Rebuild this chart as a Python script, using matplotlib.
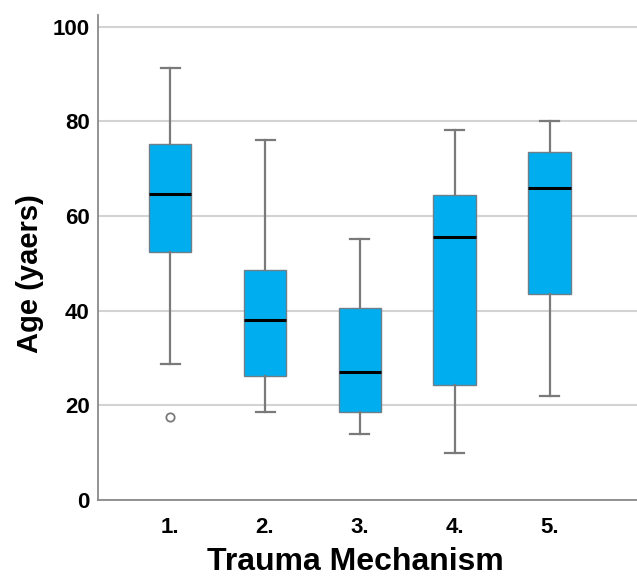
import matplotlib
matplotlib.use("Agg")
import matplotlib.pyplot as plt

plt.rcParams['font.family'] = ['Liberation Sans', 'DejaVu Sans']

categories = ["1.", "2.", "3.", "4.", "5."]
whisker_low = [28.8, 18.5, 14.0, 10.0, 22.0]
q1 = [52.5, 26.2, 18.6, 24.3, 43.5]
median = [64.6, 38.0, 27.0, 55.5, 65.9]
q3 = [75.3, 48.6, 40.6, 64.4, 73.6]
whisker_high = [91.2, 76.0, 55.1, 78.1, 80.2]
outliers = [[17.6], [], [], [], []]
yticks = [0, 20, 40, 60, 80, 100]

stats = []
for i, c in enumerate(categories):
    stats.append(dict(label=c, whislo=whisker_low[i], q1=q1[i], med=median[i],
                      q3=q3[i], whishi=whisker_high[i], fliers=outliers[i]))

fig = plt.figure(figsize=(6.37, 5.79), dpi=100)
ax = fig.add_axes([98/637, 1 - 500/579, 1 - 98/637, (500 - 15)/579])

positions = list(range(1, len(categories) + 1))
ax.bxp(stats, positions=positions, widths=0.45, patch_artist=True, zorder=3,
       boxprops=dict(facecolor="#00AEEF", edgecolor="#6f7f8a", linewidth=1.0),
       medianprops=dict(color="black", linewidth=2.2),
       whiskerprops=dict(color="#7a7a7a", linewidth=1.6),
       capprops=dict(color="#7a7a7a", linewidth=1.6),
       capwidths=0.2,
       flierprops=dict(marker="o", markerfacecolor="white", markeredgecolor="#7a7a7a",
                       markersize=6, markeredgewidth=1.3))

ax.set_xlim(0.24, 5.92)
ax.set_ylim(0, 102.5)
ax.set_yticks(yticks)
ax.set_yticklabels([str(t) for t in yticks], fontsize=16, fontweight="bold")
ax.set_xticks(positions)
ax.set_xticklabels(categories, fontsize=16, fontweight="bold")
ax.tick_params(axis="y", length=0, pad=6)
ax.tick_params(axis="x", length=0, pad=12)
ax.yaxis.grid(True, color="#d3d3d3", linewidth=1.5, zorder=0)
ax.set_axisbelow(True)
for s in ["top", "right"]:
    ax.spines[s].set_visible(False)
for s in ["left", "bottom"]:
    ax.spines[s].set_color("#8a8a8a")
    ax.spines[s].set_linewidth(1.3)

ax.set_ylabel("Age (yaers)", fontsize=21, fontweight="bold")
ax.set_xlabel("Trauma Mechanism", fontsize=23, fontweight="bold")
ax.yaxis.set_label_coords(-0.100, 0.466)
ax.xaxis.set_label_coords(0.477, -0.096)

fig.savefig("out.png", dpi=100)
